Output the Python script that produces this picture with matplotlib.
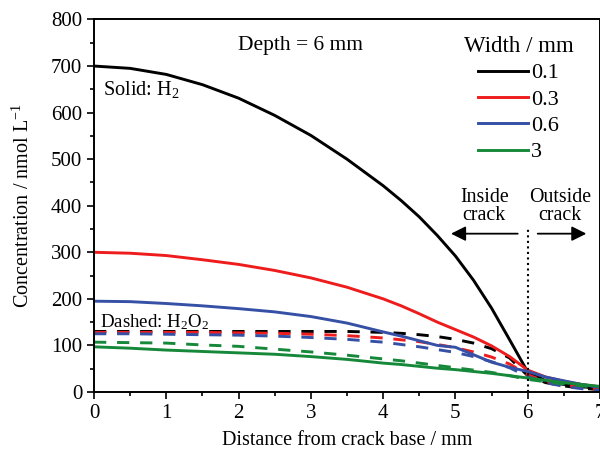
import matplotlib
matplotlib.use('Agg')
import matplotlib.pyplot as plt
from matplotlib.ticker import MultipleLocator

plt.rcParams['font.family'] = 'Liberation Serif'
plt.rcParams['mathtext.fontset'] = 'custom'
plt.rcParams['mathtext.rm'] = 'Liberation Serif'
plt.rcParams['mathtext.it'] = 'Liberation Serif:italic'

# distance from crack base / mm
x = [0, 0.5, 1, 1.5, 2, 2.5, 3, 3.5, 4, 4.25, 4.5, 4.75, 5, 5.25, 5.5, 5.75, 6, 6.25, 6.5, 6.75, 7]

# solid: H2 concentration, nmol/L
h2_01 = [700, 695, 682, 660, 631, 594, 551, 500, 443, 411, 376, 336, 292, 240, 180, 112, 43, 24, 16, 11, 8]
h2_03 = [300, 298, 293, 284, 274, 261, 245, 225, 200, 185, 168, 150, 134, 118, 99, 76, 47, 32, 23, 16, 11]
h2_06 = [195, 194, 190, 185, 179, 172, 162, 148, 129, 120, 110, 100, 96, 80, 64, 53, 44, 32, 24, 16, 10]
h2_3 = [97, 94, 90, 87, 84, 81, 76, 70, 62, 59, 55, 51, 48, 44, 40, 35, 30, 25, 20, 16, 12]

# dashed: H2O2 concentration, nmol/L
h2o2_01 = [130, 130, 130, 130, 130, 130, 130, 130, 128, 126, 123, 119, 113, 105, 93, 73, 35, 20, 13, 8, 5]
h2o2_03 = [128, 128, 128, 128, 127, 126, 124, 121, 116, 112, 108, 102, 95, 86, 75, 60, 37, 22, 15, 9, 5]
h2o2_06 = [125, 125, 124, 123, 122, 120, 117, 113, 107, 102, 97, 91, 85, 76, 65, 52, 33, 20, 12, 7, 3]
h2o2_3 = [107, 106, 105, 101, 98, 92, 86, 79, 71, 67, 62, 57, 52, 47, 42, 35, 27, 22, 17, 13, 9]

widths = ['0.1', '0.3', '0.6', '3']
colors = ['#000000', '#ee1c1c', '#3550a5', '#16883a']
solid = [h2_01, h2_03, h2_06, h2_3]
dashed = [h2o2_01, h2o2_03, h2o2_06, h2o2_3]

fig = plt.figure(figsize=(6, 4.53), dpi=100)
ax = fig.add_axes([0.1567, 0.1347, 0.8433, 0.8223])

handles = []
for w, c, s, d in zip(widths, colors, solid, dashed):
    ln, = ax.plot(x, s, color=c, lw=2.1, label=w)
    ax.plot(x, d, color=c, lw=2.1, ls=(0, (4.2, 3.7)))
    handles.append(ln)

ax.set_xlim(0, 7)
ax.set_ylim(0, 800)
ax.xaxis.set_major_locator(MultipleLocator(1))
ax.xaxis.set_minor_locator(MultipleLocator(0.5))
ax.yaxis.set_major_locator(MultipleLocator(100))
ax.yaxis.set_minor_locator(MultipleLocator(50))
ax.tick_params(which='both', direction='out', labelsize=15, width=1.2)
ax.tick_params(which='major', length=5)
ax.tick_params(which='minor', length=3)
for sp in ax.spines.values():
    sp.set_linewidth(1.4)

ax.set_xlabel('Distance from crack base / mm', fontsize=14.5, labelpad=6)
ax.set_ylabel('Concentration / nmol L$^{-1}$', fontsize=14.5, labelpad=12)

# crack mouth
ax.axvline(6, ymin=0, ymax=0.44, color='black', ls=':', lw=1.5)
ax.annotate('', xy=(4.9, 340), xytext=(5.9, 340),
            arrowprops=dict(arrowstyle='-|>', color='black', lw=1.3, mutation_scale=22))
ax.annotate('', xy=(6.85, 340), xytext=(6.1, 340),
            arrowprops=dict(arrowstyle='-|>', color='black', lw=1.3, mutation_scale=22))
ax.text(5.4, 358, 'Inside\ncrack', ha='center', va='bottom', fontsize=14.3, linespacing=0.95)
ax.text(6.45, 358, 'Outside\ncrack', ha='center', va='bottom', fontsize=14.3, linespacing=0.95)

ax.text(2.85, 745, 'Depth = 6 mm', ha='center', va='center', fontsize=15.5)
ax.text(0.12, 650, 'Solid: H$_2$', ha='left', va='center', fontsize=14.6)
ax.text(0.08, 150, 'Dashed: H$_2$O$_2$', ha='left', va='center', fontsize=13.6)

leg = ax.legend(handles=handles, title='Width / mm', loc='upper left',
                bbox_to_anchor=(0.70, 0.997), frameon=False, fontsize=16,
                title_fontsize=16.5, handlelength=2.25, handletextpad=0.15,
                labelspacing=0.26, borderpad=0.2)

fig.savefig('out.png', dpi=100)
